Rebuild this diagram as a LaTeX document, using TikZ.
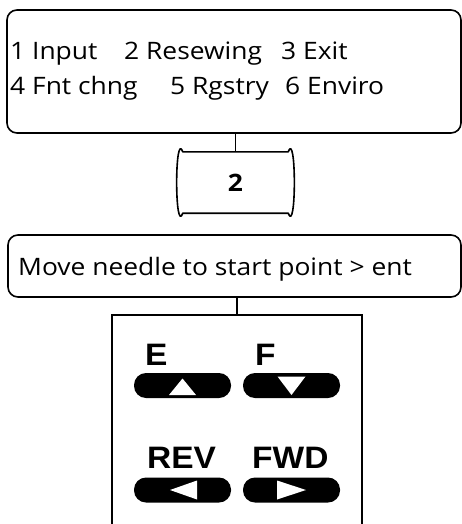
\documentclass[tikz,border=0pt]{standalone}
\usepackage{fontspec}
\setmainfont[FakeStretch=1.1]{Open Sans}
\newfontfamily\keyfont[FakeStretch=1.08]{Liberation Sans}
\usetikzlibrary{positioning,calc}

\begin{document}
\begin{tikzpicture}[x=1pt,y=-1pt,
  frame/.style={draw,line width=1.6pt,rounded corners=10pt,inner sep=0pt},
  item/.style={anchor=base west,inner sep=0pt,font=\fontsize{24}{24}\selectfont},
  keylbl/.style={anchor=base west,inner sep=0pt,font=\keyfont\bfseries\fontsize{31}{31}\selectfont},
  keybtn/.style={fill=black,rounded corners=12pt,minimum width=97pt,minimum height=25pt,inner sep=0pt},
  wire/.style={line width=1.6pt}
]
\useasboundingbox (0,0) rectangle (462,524);

\node[frame,minimum width=454pt,minimum height=123pt] (menu) at (234,71.5) {};
\node[item] (mInput) at (10,60) {1 Input};
\node[item] (mResew) at (124,60) {2 Resewing};
\node[item] (mExit) at (281,60) {3 Exit};
\node[item] (mFont) at (10,95) {4 Fnt chng};
\node[item] (mReg) at (170,95) {5 Rgstry};
\node[item] (mEnv) at (285,95) {6 Enviro};

\node[inner sep=0pt,minimum width=105pt,minimum height=61pt,font=\bfseries\fontsize{24}{24}\selectfont] (sel) at (235.5,182.5) {2};
\draw[wire,line join=round] (sel.north west) -- (sel.north east) to[out=70,in=-70] (sel.south east)
  -- (sel.south west) to[out=-110,in=110] (sel.north west) -- cycle;

\node[frame,minimum width=453pt,minimum height=62pt] (prompt) at (234.5,266) {};
\node[item] (msg) at (18,275) {Move needle to start point > ent};

\node[inner sep=0pt,minimum width=250pt,minimum height=230pt] (pad) at (237,430) {};
\draw[wire] (pad.south west) -- (pad.north west) -- (pad.north east) -- (pad.south east);

\draw[wire] (sel.north) -- (sel.north |- menu.south);
\draw[wire] (pad.north) -- (pad.north |- prompt.south);

\node[keylbl] (lblE) at (145,365) {E};
\node[keylbl] (lblF) at (255,365) {F};
\node[keylbl] (lblRev) at (147,468) {REV};
\node[keylbl] (lblFwd) at (252,468) {FWD};

\node[keybtn] (keyE) at (182.5,385.5) {};
\node[keybtn] (keyF) at (291.5,385.5) {};
\node[keybtn] (keyRev) at (182.5,490) {};
\node[keybtn] (keyFwd) at (291.5,490) {};

\fill[white] ($(keyE)+(0,-7)$) -- ($(keyE)+(13.5,9.5)$) -- ($(keyE)+(-13.5,9.5)$) -- cycle;
\fill[white] ($(keyF)+(0,9.5)$) -- ($(keyF)+(14,-9)$) -- ($(keyF)+(-14,-9)$) -- cycle;
\fill[white] ($(keyRev)+(-12.5,0)$) -- ($(keyRev)+(14.5,-9.5)$) -- ($(keyRev)+(14.5,9.5)$) -- cycle;
\fill[white] ($(keyFwd)+(14.5,0)$) -- ($(keyFwd)+(-14.5,-9.5)$) -- ($(keyFwd)+(-14.5,9.5)$) -- cycle;
\end{tikzpicture}
\end{document}
